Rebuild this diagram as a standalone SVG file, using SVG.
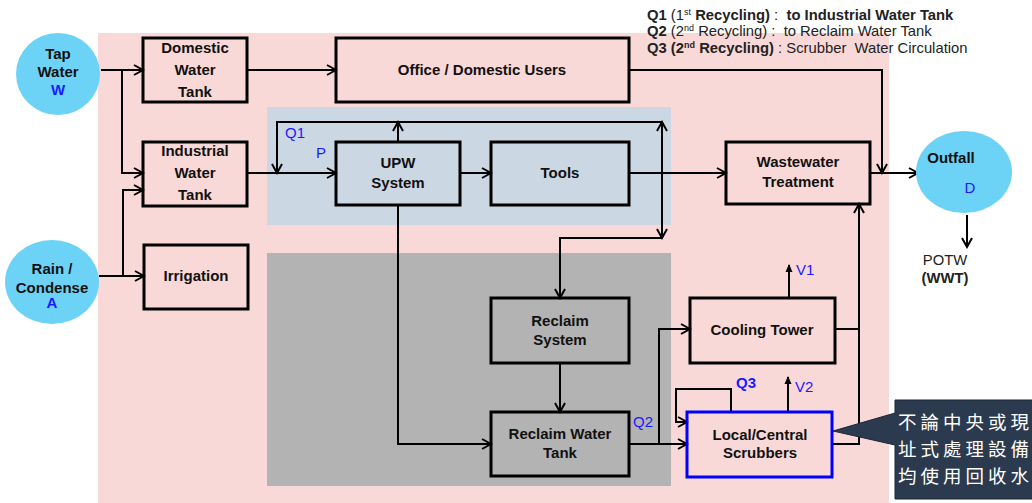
<svg xmlns="http://www.w3.org/2000/svg" width="1032" height="503" viewBox="0 0 1032 503">
<defs>
<style>
.t{font-family:"Liberation Sans",Arial,sans-serif;font-size:15px;font-weight:bold;fill:#111;text-anchor:middle}
.box{fill:none;stroke:#000;stroke-width:3}
.c{fill:none;stroke:#000;stroke-width:2}
.bl{font-family:"Liberation Sans",Arial,sans-serif;font-size:15px;fill:#1a1aff}
.lg{font-family:"Liberation Sans",Arial,sans-serif;font-size:14.8px;fill:#222;white-space:pre}
.b{font-weight:bold}
.ell{fill:#6cd2f6}
.cj{font-family:"Noto Sans CJK TC","Noto Sans CJK SC",sans-serif;font-size:18.5px;fill:#fff;letter-spacing:4px}
</style>
<marker id="a" viewBox="0 0 12 12" refX="10" refY="6" markerWidth="12" markerHeight="12" markerUnits="userSpaceOnUse" orient="auto">
<path d="M1,1 L10,6 L1,11" fill="none" stroke="#000" stroke-width="2"/>
</marker>
<marker id="f" viewBox="0 0 8 8" refX="7" refY="4" markerWidth="8" markerHeight="8" markerUnits="userSpaceOnUse" orient="auto">
<path d="M0,0.5 L8,4 L0,7.5 Z" fill="#000"/>
</marker>
</defs>
<rect width="1032" height="503" fill="#fff"/>
<rect x="98" y="33" width="791" height="470" fill="#f9d9d7"/>
<rect x="267" y="107" width="404" height="118" fill="#cbd7e3"/>
<rect x="267" y="253" width="404" height="233" fill="#b3b3b3"/>

<g id="legend">
<text class="lg" x="647" y="20"><tspan class="b">Q1</tspan> (1<tspan font-size="9" dy="-5">st</tspan><tspan class="b" dy="5"> Recycling)</tspan> :&#160;&#160;<tspan class="b">to Industrial Water Tank</tspan></text>
<text class="lg" x="647" y="36"><tspan class="b">Q2</tspan> (2<tspan font-size="9" dy="-5">nd</tspan><tspan dy="5"> Recycling) :&#160;&#160;to Reclaim Water Tank</tspan></text>
<text class="lg" x="647" y="53"><tspan class="b">Q3 (2</tspan><tspan class="b" font-size="9" dy="-5">nd</tspan><tspan class="b" dy="5"> Recycling)</tspan> : Scrubber&#160;&#160;Water Circulation</text>
</g>

<g id="connectors">
<path class="c" marker-end="url(#a)" d="M101,70 H143"/>
<path class="c" marker-end="url(#a)" d="M122,70 V173 H143"/>
<path class="c" marker-end="url(#a)" d="M99,276 H144"/>
<path class="c" marker-end="url(#a)" d="M123,276 V190 H143"/>
<path class="c" marker-end="url(#a)" d="M247,70 H336"/>
<path class="c" marker-end="url(#a)" d="M247,173 H336"/>
<path class="c" marker-end="url(#a)" d="M398,142 V122"/>
<path class="c" marker-end="url(#a)" d="M662,173 V122"/>
<path class="c" marker-end="url(#a)" d="M662,122 H277 V173"/>
<path class="c" marker-end="url(#a)" d="M662,173 V238"/>
<path class="c" marker-end="url(#a)" d="M662,238 H560 V298"/>
<path class="c" marker-end="url(#a)" d="M460,173 H491"/>
<path class="c" marker-end="url(#a)" d="M629,173 H726"/>
<path class="c" marker-end="url(#a)" d="M629,70 H882 V173"/>
<path class="c" marker-end="url(#a)" d="M870,173 H918"/>
<path class="c" marker-end="url(#a)" d="M398,205 V444 H491"/>
<path class="c" marker-end="url(#a)" d="M560,363 V412"/>
<path class="c" marker-end="url(#a)" d="M629,444 H687"/>
<path class="c" marker-end="url(#a)" d="M659,444 V329 H690"/>
<path class="c" marker-end="url(#a)" d="M731,412 V389 H676 V422 H687"/>
<path class="c" marker-end="url(#f)" d="M789,298 V265"/>
<path class="c" marker-end="url(#f)" d="M788,412 V377"/>
<path class="c" d="M835,329 H859"/>
<path class="c" marker-end="url(#a)" d="M832,444 H859 V204"/>
<path class="c" marker-end="url(#a)" d="M967,215 V247"/>
<text class="bl" x="285" y="138">Q1</text>
<text class="bl" x="316" y="158">P</text>
<text class="bl" x="633" y="427">Q2</text>
<text class="bl b" x="736" y="388">Q3</text>
<text class="bl" x="796" y="275">V1</text>
<text class="bl" x="795" y="392">V2</text>
</g>

<g id="tap">
<ellipse class="ell" cx="58" cy="74" rx="42" ry="41"/>
<text class="t" x="58" y="59">Tap</text>
<text class="t" x="58" y="77">Water</text>
<text class="t" x="58" y="95" style="fill:#1a1aff">W</text>
</g>
<g id="rain">
<ellipse class="ell" cx="52" cy="282" rx="47" ry="42"/>
<text class="t" x="52" y="274">Rain /</text>
<text class="t" x="52" y="293">Condense</text>
<text class="t" x="52" y="308" style="fill:#1a1aff">A</text>
</g>
<g id="outfall">
<ellipse class="ell" cx="964" cy="172" rx="48" ry="41"/>
<text class="t" x="951" y="163">Outfall</text>
<text class="bl" x="970" y="193" text-anchor="middle">D</text>
</g>
<g id="potw">
<text class="lg" x="945" y="265" text-anchor="middle" font-size="15">POTW</text>
<text class="lg b" x="945" y="283" text-anchor="middle" font-size="15">(WWT)</text>
</g>

<g id="domestic">
<rect class="box" x="143" y="38" width="104" height="64"/>
<text class="t" x="195" y="53">Domestic</text>
<text class="t" x="195" y="75">Water</text>
<text class="t" x="195" y="97">Tank</text>
</g>
<g id="office">
<rect class="box" x="336" y="38" width="293" height="64"/>
<text class="t" x="482" y="75">Office / Domestic Users</text>
</g>
<g id="industrial">
<rect class="box" x="143" y="142" width="104" height="64"/>
<text class="t" x="195" y="156">Industrial</text>
<text class="t" x="195" y="178">Water</text>
<text class="t" x="195" y="200">Tank</text>
</g>
<g id="irrigation">
<rect class="box" x="144" y="245" width="104" height="64"/>
<text class="t" x="196" y="281">Irrigation</text>
</g>
<g id="upw">
<rect class="box" x="336" y="142" width="124" height="63"/>
<text class="t" x="398" y="168">UPW</text>
<text class="t" x="398" y="188">System</text>
</g>
<g id="tools">
<rect class="box" x="491" y="142" width="138" height="63"/>
<text class="t" x="560" y="178">Tools</text>
</g>
<g id="wwt">
<rect class="box" x="726" y="142" width="144" height="62"/>
<text class="t" x="798" y="167">Wastewater</text>
<text class="t" x="798" y="187">Treatment</text>
</g>
<g id="reclaim-system">
<rect class="box" x="491" y="298" width="138" height="65"/>
<text class="t" x="560" y="326">Reclaim</text>
<text class="t" x="560" y="345">System</text>
</g>
<g id="reclaim-tank">
<rect class="box" x="491" y="412" width="138" height="64"/>
<text class="t" x="560" y="439">Reclaim Water</text>
<text class="t" x="560" y="458">Tank</text>
</g>
<g id="cooling">
<rect class="box" x="690" y="298" width="145" height="65"/>
<text class="t" x="762" y="335">Cooling Tower</text>
</g>
<g id="scrubbers">
<rect x="687" y="412" width="145" height="65" fill="none" stroke="#0000ff" stroke-width="3"/>
<text class="t" x="760" y="440">Local/Central</text>
<text class="t" x="760" y="458">Scrubbers</text>
</g>

<g id="callout">
<path d="M895,400 H1033 V499 H895 V445 L833,431 L895,413 Z" fill="#2b3a4e" stroke="#1c2735" stroke-width="1"/>
<text class="cj" x="898" y="429">不論中央或現</text>
<text class="cj" x="898" y="456">址式處理設備</text>
<text class="cj" x="898" y="483">均使用回收水</text>
</g>
</svg>
